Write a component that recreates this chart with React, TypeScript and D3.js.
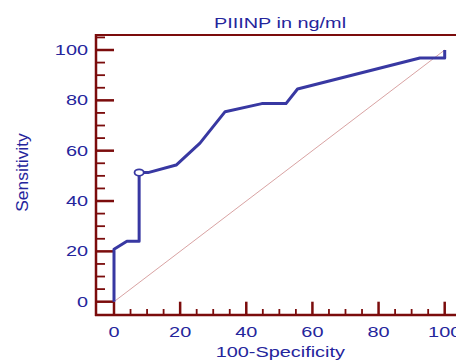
import * as d3 from "d3";

// ROC curve (100-Specificity vs Sensitivity, %)
const fpr = [0, 0, 3.9, 7.6, 7.6, 10.3, 18.8, 26, 33.6, 44.7, 52, 55.5, 92.5, 100, 100];
const tpr = [0, 20.8, 24, 24, 51.3, 51.3, 54.3, 63, 75.5, 78.7, 78.7, 84.5, 96.8, 96.8, 100];
const criterion = { x: 7.6, y: 51.3 };
const xTicks = [0, 20, 40, 60, 80, 100];
const yTicks = [0, 20, 40, 60, 80, 100];
const minorTicks = d3.range(-5, 106, 5).filter((v) => v % 20 !== 0);

const W = 456;
const H = 360;
const AXIS_X = 96;
const AXIS_Y = 315;
const TOP = 35;
const STRETCH = 1.42;
const RED = "#7b0c0c";
const BLUE = "#25259c";
const LINE = "#3838a2";
const FONT = "'Liberation Sans', Arial, sans-serif";

export default function App() {
  const x = d3.scaleLinear().domain([0, 100]).range([114, 444.7]);
  const y = d3.scaleLinear().domain([0, 100]).range([301.7, 50]);

  const pts = fpr.map((f, i) => [f, tpr[i]] as [number, number]);
  const path = d3
    .line<[number, number]>()
    .x((d) => x(d[0]))
    .y((d) => y(d[1]))(pts);

  const label = (tx: number, ty: number, anchor: string, s: string, key?: string) => (
    <text
      key={key}
      transform={`translate(${tx},${ty}) scale(${STRETCH},1)`}
      textAnchor={anchor}
      fontFamily={FONT}
      fontSize={14}
      fill={BLUE}
    >
      {s}
    </text>
  );

  return (
    <svg
      width={W}
      height={H}
      viewBox={`0 0 ${W} ${H}`}
      style={{ position: "absolute", left: 0, top: 0, background: "#fff" }}
    >
      {label(280, 27.7, "middle", "PIIINP in ng/ml")}

      {/* diagonal reference */}
      <line x1={x(0)} y1={y(0)} x2={x(100)} y2={y(100)} stroke="#d9a3a3" strokeWidth={1} />

      {/* frame */}
      <line x1={AXIS_X} y1={TOP} x2={W + 10} y2={TOP} stroke={RED} strokeWidth={2} />
      <line x1={AXIS_X} y1={TOP - 1} x2={AXIS_X} y2={AXIS_Y + 1} stroke={RED} strokeWidth={2.5} />
      <line x1={AXIS_X - 1} y1={AXIS_Y} x2={W + 10} y2={AXIS_Y} stroke={RED} strokeWidth={2.5} />

      {/* y ticks */}
      {yTicks.map((t) => (
        <line key={`ym${t}`} x1={AXIS_X} x2={x(0)} y1={y(t)} y2={y(t)} stroke={RED} strokeWidth={2.5} />
      ))}
      {minorTicks
        .filter((t) => y(t) > TOP + 2 && y(t) < AXIS_Y - 2)
        .map((t) => (
          <line key={`yn${t}`} x1={AXIS_X} x2={AXIS_X + 9} y1={y(t)} y2={y(t)} stroke={RED} strokeWidth={1.8} />
        ))}
      {yTicks.map((t) => label(88, y(t) + 5, "end", String(t), `yl${t}`))}

      {/* x ticks */}
      {xTicks.map((t) => (
        <line key={`xm${t}`} x1={x(t)} x2={x(t)} y1={AXIS_Y} y2={y(0)} stroke={RED} strokeWidth={2.5} />
      ))}
      {minorTicks
        .filter((t) => x(t) > AXIS_X + 2)
        .map((t) => (
          <line key={`xn${t}`} x1={x(t)} x2={x(t)} y1={AXIS_Y} y2={AXIS_Y - 6} stroke={RED} strokeWidth={1.8} />
        ))}
      {xTicks.map((t) => label(x(t), 337.3, "middle", String(t), `xl${t}`))}

      {/* ROC curve */}
      <path d={path ?? ""} fill="none" stroke={LINE} strokeWidth={3} strokeLinejoin="round" />
      <ellipse
        cx={x(criterion.x)}
        cy={y(criterion.y)}
        rx={4.6}
        ry={3.2}
        fill="#fff"
        stroke={LINE}
        strokeWidth={1.8}
      />

      {label(280.3, 356.7, "middle", "100-Specificity")}
      <text
        transform="translate(27.5,172.5) rotate(-90) scale(1.25,1.17)"
        textAnchor="middle"
        fontFamily={FONT}
        fontSize={14}
        fill={BLUE}
      >
        Sensitivity
      </text>
    </svg>
  );
}
